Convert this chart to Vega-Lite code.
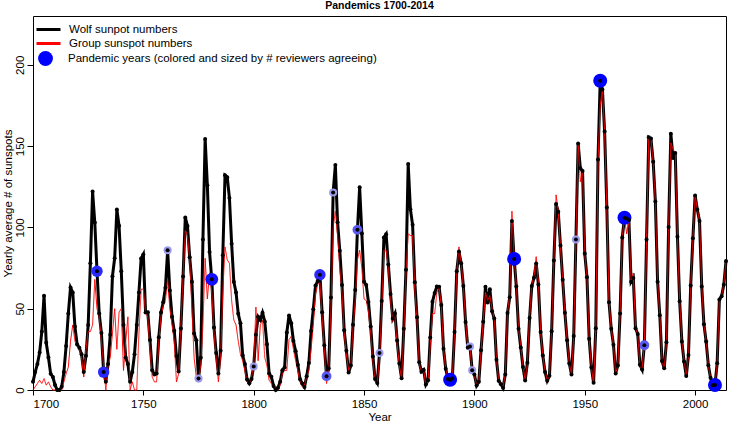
{
  "$schema": "https://vega.github.io/schema/vega-lite/v6.json",
  "width": 693,
  "height": 374,
  "autosize": {"type": "none"},
  "padding": {"left": 33, "top": 16, "right": 5, "bottom": 34},
  "background": "white",
  "title": {"text": "Pandemics 1700-2014", "fontSize": 10.5, "font": "Liberation Sans", "fontWeight": "bold", "color": "black", "anchor": "middle", "offset": 5},
  "config": {
    "view": {"stroke": "black", "strokeWidth": 1},
    "axis": {"domain": false, "grid": false, "tickColor": "black", "tickWidth": 1, "labelColor": "black", "labelFont": "Liberation Sans", "labelFontSize": 11.5, "titleFont": "Liberation Sans", "titleFontSize": 11.5, "titleFontWeight": "normal", "titleColor": "black"},
    "legend": {"padding": 0, "labelFont": "Liberation Sans", "labelFontSize": 11.5, "labelColor": "black", "labelLimit": 500}
  },
  "datasets": {
    "sun": [
      {"year":1700,"wolf":5.0,"group":0},{"year":1701,"wolf":11.0,"group":2},{"year":1702,"wolf":16.0,"group":4},{"year":1703,"wolf":23.0,"group":6},{"year":1704,"wolf":36.0,"group":4},{"year":1705,"wolf":58.0,"group":7},{"year":1706,"wolf":29.0,"group":3},{"year":1707,"wolf":20.0,"group":5},{"year":1708,"wolf":10.0,"group":2},{"year":1709,"wolf":8.0,"group":0},
      {"year":1710,"wolf":3.0,"group":0},{"year":1711,"wolf":0.0,"group":0},{"year":1712,"wolf":0.0,"group":0},{"year":1713,"wolf":2.0,"group":0},{"year":1714,"wolf":11.0,"group":5},{"year":1715,"wolf":27.0,"group":10},{"year":1716,"wolf":47.0,"group":14},{"year":1717,"wolf":63.0,"group":30},{"year":1718,"wolf":60.0,"group":40},{"year":1719,"wolf":39.0,"group":30},
      {"year":1720,"wolf":28.0,"group":27},{"year":1721,"wolf":26.0,"group":25},{"year":1722,"wolf":22.0,"group":20},{"year":1723,"wolf":11.0,"group":8},{"year":1724,"wolf":21.0,"group":25},{"year":1725,"wolf":40.0,"group":36},{"year":1726,"wolf":78.0,"group":36},{"year":1727,"wolf":122.0,"group":40},{"year":1728,"wolf":103.0,"group":68},{"year":1729,"wolf":73.0,"group":50},
      {"year":1730,"wolf":47.0,"group":45},{"year":1731,"wolf":35.0,"group":30},{"year":1732,"wolf":11.0,"group":15},{"year":1733,"wolf":5.0,"group":0},{"year":1734,"wolf":16.0,"group":15},{"year":1735,"wolf":34.0,"group":20},{"year":1736,"wolf":70.0,"group":35},{"year":1737,"wolf":81.0,"group":50},{"year":1738,"wolf":111.0,"group":25},{"year":1739,"wolf":101.0,"group":48},
      {"year":1740,"wolf":73.0,"group":50},{"year":1741,"wolf":40.0,"group":12},{"year":1742,"wolf":20.0,"group":30},{"year":1743,"wolf":16.0,"group":45},{"year":1744,"wolf":5.0,"group":0},{"year":1745,"wolf":11.0,"group":5},{"year":1746,"wolf":22.0,"group":0},{"year":1747,"wolf":40.0,"group":0},{"year":1748,"wolf":60.0,"group":35},{"year":1749,"wolf":80.9,"group":62},
      {"year":1750,"wolf":83.4,"group":62},{"year":1751,"wolf":47.7,"group":48},{"year":1752,"wolf":47.8,"group":45},{"year":1753,"wolf":30.7,"group":25},{"year":1754,"wolf":12.2,"group":8},{"year":1755,"wolf":9.6,"group":5},{"year":1756,"wolf":10.2,"group":5},{"year":1757,"wolf":32.4,"group":30},{"year":1758,"wolf":47.6,"group":45},{"year":1759,"wolf":54.0,"group":52},
      {"year":1760,"wolf":62.9,"group":55},{"year":1761,"wolf":85.9,"group":68},{"year":1762,"wolf":61.2,"group":50},{"year":1763,"wolf":45.1,"group":40},{"year":1764,"wolf":36.4,"group":30},{"year":1765,"wolf":20.9,"group":5},{"year":1766,"wolf":11.4,"group":10},{"year":1767,"wolf":37.8,"group":40},{"year":1768,"wolf":69.8,"group":70},{"year":1769,"wolf":106.1,"group":98},
      {"year":1770,"wolf":100.8,"group":95},{"year":1771,"wolf":81.6,"group":80},{"year":1772,"wolf":66.5,"group":50},{"year":1773,"wolf":34.8,"group":20},{"year":1774,"wolf":30.6,"group":8},{"year":1775,"wolf":7.0,"group":5},{"year":1776,"wolf":19.8,"group":15},{"year":1777,"wolf":92.5,"group":40},{"year":1778,"wolf":154.4,"group":81},{"year":1779,"wolf":125.9,"group":56},
      {"year":1780,"wolf":84.8,"group":72},{"year":1781,"wolf":68.1,"group":60},{"year":1782,"wolf":38.5,"group":35},{"year":1783,"wolf":22.8,"group":20},{"year":1784,"wolf":10.2,"group":5},{"year":1785,"wolf":24.1,"group":20},{"year":1786,"wolf":82.9,"group":60},{"year":1787,"wolf":132.0,"group":88},{"year":1788,"wolf":130.9,"group":80},{"year":1789,"wolf":118.1,"group":78},
      {"year":1790,"wolf":89.9,"group":55},{"year":1791,"wolf":66.6,"group":43},{"year":1792,"wolf":60.0,"group":40},{"year":1793,"wolf":46.9,"group":30},{"year":1794,"wolf":41.0,"group":22},{"year":1795,"wolf":21.3,"group":18},{"year":1796,"wolf":16.0,"group":12},{"year":1797,"wolf":6.4,"group":5},{"year":1798,"wolf":4.1,"group":3},{"year":1799,"wolf":6.8,"group":8},
      {"year":1800,"wolf":14.5,"group":15},{"year":1801,"wolf":34.0,"group":51},{"year":1802,"wolf":45.0,"group":18},{"year":1803,"wolf":43.1,"group":40},{"year":1804,"wolf":47.5,"group":43},{"year":1805,"wolf":42.2,"group":20},{"year":1806,"wolf":28.1,"group":15},{"year":1807,"wolf":10.1,"group":6},{"year":1808,"wolf":8.1,"group":4},{"year":1809,"wolf":2.5,"group":2},
      {"year":1810,"wolf":0.0,"group":1},{"year":1811,"wolf":1.4,"group":0},{"year":1812,"wolf":5.0,"group":3},{"year":1813,"wolf":12.2,"group":10},{"year":1814,"wolf":13.9,"group":12},{"year":1815,"wolf":35.4,"group":12},{"year":1816,"wolf":45.8,"group":31},{"year":1817,"wolf":41.1,"group":33},{"year":1818,"wolf":30.1,"group":25},{"year":1819,"wolf":23.9,"group":18},
      {"year":1820,"wolf":15.6,"group":12},{"year":1821,"wolf":6.6,"group":5},{"year":1822,"wolf":4.0,"group":2},{"year":1823,"wolf":1.8,"group":3},{"year":1824,"wolf":8.5,"group":8},{"year":1825,"wolf":16.6,"group":12},{"year":1826,"wolf":36.3,"group":25},{"year":1827,"wolf":49.6,"group":40},{"year":1828,"wolf":64.2,"group":59},{"year":1829,"wolf":67.0,"group":65},
      {"year":1830,"wolf":70.9,"group":66},{"year":1831,"wolf":47.8,"group":45},{"year":1832,"wolf":27.5,"group":25},{"year":1833,"wolf":8.5,"group":4},{"year":1834,"wolf":13.2,"group":12},{"year":1835,"wolf":56.9,"group":50},{"year":1836,"wolf":121.5,"group":100},{"year":1837,"wolf":138.3,"group":110},{"year":1838,"wolf":103.2,"group":95},{"year":1839,"wolf":85.7,"group":75},
      {"year":1840,"wolf":64.6,"group":60},{"year":1841,"wolf":36.7,"group":35},{"year":1842,"wolf":24.2,"group":22},{"year":1843,"wolf":10.7,"group":12},{"year":1844,"wolf":15.0,"group":15},{"year":1845,"wolf":40.1,"group":38},{"year":1846,"wolf":61.5,"group":55},{"year":1847,"wolf":98.5,"group":80},{"year":1848,"wolf":124.7,"group":86},{"year":1849,"wolf":96.3,"group":75},
      {"year":1850,"wolf":66.6,"group":56},{"year":1851,"wolf":64.5,"group":55},{"year":1852,"wolf":54.1,"group":48},{"year":1853,"wolf":39.0,"group":35},{"year":1854,"wolf":20.6,"group":18},{"year":1855,"wolf":6.7,"group":6},{"year":1856,"wolf":4.3,"group":4},{"year":1857,"wolf":22.7,"group":20},{"year":1858,"wolf":54.8,"group":50},{"year":1859,"wolf":93.8,"group":86},
      {"year":1860,"wolf":95.8,"group":86},{"year":1861,"wolf":77.2,"group":75},{"year":1862,"wolf":59.1,"group":55},{"year":1863,"wolf":44.0,"group":42},{"year":1864,"wolf":47.0,"group":45},{"year":1865,"wolf":30.5,"group":28},{"year":1866,"wolf":16.3,"group":15},{"year":1867,"wolf":7.3,"group":7},{"year":1868,"wolf":37.6,"group":35},{"year":1869,"wolf":74.0,"group":72},
      {"year":1870,"wolf":139.0,"group":96},{"year":1871,"wolf":111.2,"group":95},{"year":1872,"wolf":101.6,"group":95},{"year":1873,"wolf":66.2,"group":62},{"year":1874,"wolf":44.7,"group":42},{"year":1875,"wolf":17.0,"group":16},{"year":1876,"wolf":11.3,"group":11},{"year":1877,"wolf":12.4,"group":12},{"year":1878,"wolf":3.4,"group":3},{"year":1879,"wolf":6.0,"group":5},
      {"year":1880,"wolf":32.3,"group":28},{"year":1881,"wolf":54.3,"group":47},{"year":1882,"wolf":59.7,"group":47},{"year":1883,"wolf":63.7,"group":60},{"year":1884,"wolf":63.5,"group":63},{"year":1885,"wolf":52.2,"group":52},{"year":1886,"wolf":25.4,"group":25},{"year":1887,"wolf":13.1,"group":13},{"year":1888,"wolf":6.8,"group":7},{"year":1889,"wolf":6.3,"group":6},
      {"year":1890,"wolf":7.1,"group":7},{"year":1891,"wolf":35.6,"group":34},{"year":1892,"wolf":73.0,"group":72},{"year":1893,"wolf":85.1,"group":88},{"year":1894,"wolf":78.0,"group":78},{"year":1895,"wolf":64.0,"group":64},{"year":1896,"wolf":41.8,"group":42},{"year":1897,"wolf":26.2,"group":26},{"year":1898,"wolf":26.7,"group":25},{"year":1899,"wolf":12.1,"group":12},
      {"year":1900,"wolf":9.5,"group":9},{"year":1901,"wolf":2.7,"group":3},{"year":1902,"wolf":5.0,"group":5},{"year":1903,"wolf":24.4,"group":24},{"year":1904,"wolf":42.0,"group":42},{"year":1905,"wolf":63.5,"group":60},{"year":1906,"wolf":53.8,"group":55},{"year":1907,"wolf":62.0,"group":58},{"year":1908,"wolf":48.5,"group":50},{"year":1909,"wolf":43.9,"group":44},
      {"year":1910,"wolf":18.6,"group":19},{"year":1911,"wolf":5.7,"group":6},{"year":1912,"wolf":3.6,"group":4},{"year":1913,"wolf":1.4,"group":2},{"year":1914,"wolf":9.6,"group":10},{"year":1915,"wolf":47.4,"group":48},{"year":1916,"wolf":57.1,"group":58},{"year":1917,"wolf":103.9,"group":110},{"year":1918,"wolf":80.6,"group":82},{"year":1919,"wolf":63.6,"group":64},
      {"year":1920,"wolf":37.6,"group":38},{"year":1921,"wolf":26.1,"group":27},{"year":1922,"wolf":14.2,"group":15},{"year":1923,"wolf":5.8,"group":6},{"year":1924,"wolf":16.7,"group":16},{"year":1925,"wolf":44.3,"group":45},{"year":1926,"wolf":63.9,"group":65},{"year":1927,"wolf":69.0,"group":70},{"year":1928,"wolf":77.8,"group":82},{"year":1929,"wolf":64.9,"group":66},
      {"year":1930,"wolf":35.7,"group":36},{"year":1931,"wolf":21.2,"group":21},{"year":1932,"wolf":11.1,"group":12},{"year":1933,"wolf":5.7,"group":6},{"year":1934,"wolf":8.7,"group":9},{"year":1935,"wolf":36.1,"group":37},{"year":1936,"wolf":79.7,"group":80},{"year":1937,"wolf":114.4,"group":120},{"year":1938,"wolf":109.6,"group":110},{"year":1939,"wolf":88.8,"group":88},
      {"year":1940,"wolf":67.8,"group":68},{"year":1941,"wolf":47.5,"group":47},{"year":1942,"wolf":30.6,"group":31},{"year":1943,"wolf":16.3,"group":16},{"year":1944,"wolf":9.6,"group":10},{"year":1945,"wolf":33.2,"group":33},{"year":1946,"wolf":92.6,"group":92},{"year":1947,"wolf":151.6,"group":152},{"year":1948,"wolf":136.3,"group":128},{"year":1949,"wolf":134.7,"group":135},
      {"year":1950,"wolf":83.9,"group":84},{"year":1951,"wolf":69.4,"group":69},{"year":1952,"wolf":31.5,"group":31},{"year":1953,"wolf":13.9,"group":14},{"year":1954,"wolf":4.4,"group":4},{"year":1955,"wolf":38.0,"group":38},{"year":1956,"wolf":141.7,"group":140},{"year":1957,"wolf":190.2,"group":175},{"year":1958,"wolf":184.8,"group":185},{"year":1959,"wolf":159.0,"group":159},
      {"year":1960,"wolf":112.3,"group":112},{"year":1961,"wolf":53.9,"group":54},{"year":1962,"wolf":37.6,"group":38},{"year":1963,"wolf":27.9,"group":28},{"year":1964,"wolf":10.2,"group":10},{"year":1965,"wolf":15.1,"group":15},{"year":1966,"wolf":47.0,"group":47},{"year":1967,"wolf":93.8,"group":94},{"year":1968,"wolf":105.9,"group":106},{"year":1969,"wolf":105.5,"group":96},
      {"year":1970,"wolf":104.5,"group":104},{"year":1971,"wolf":66.6,"group":67},{"year":1972,"wolf":68.9,"group":72},{"year":1973,"wolf":38.0,"group":38},{"year":1974,"wolf":34.5,"group":34},{"year":1975,"wolf":15.5,"group":15},{"year":1976,"wolf":12.6,"group":13},{"year":1977,"wolf":27.5,"group":28},{"year":1978,"wolf":92.5,"group":92},{"year":1979,"wolf":155.4,"group":155},
      {"year":1980,"wolf":154.6,"group":155},{"year":1981,"wolf":140.4,"group":140},{"year":1982,"wolf":115.9,"group":116},{"year":1983,"wolf":66.6,"group":67},{"year":1984,"wolf":45.9,"group":46},{"year":1985,"wolf":17.9,"group":18},{"year":1986,"wolf":13.4,"group":13},{"year":1987,"wolf":29.4,"group":29},{"year":1988,"wolf":100.2,"group":100},{"year":1989,"wolf":157.6,"group":152},
      {"year":1990,"wolf":142.6,"group":148},{"year":1991,"wolf":145.7,"group":146},{"year":1992,"wolf":94.3,"group":94},{"year":1993,"wolf":54.6,"group":55},{"year":1994,"wolf":29.9,"group":30},{"year":1995,"wolf":17.5,"group":18},{"year":1996,"wolf":8.6,"group":9},{"year":1997,"wolf":21.5,"group":21},{"year":1998,"wolf":64.3,"group":64},{"year":1999,"wolf":93.3,"group":93},
      {"year":2000,"wolf":119.6,"group":120},{"year":2001,"wolf":111.0,"group":111},{"year":2002,"wolf":104.0,"group":104},{"year":2003,"wolf":63.7,"group":64},{"year":2004,"wolf":40.4,"group":40},{"year":2005,"wolf":29.8,"group":30},{"year":2006,"wolf":15.2,"group":15},{"year":2007,"wolf":7.5,"group":7.5},{"year":2008,"wolf":2.9,"group":3},{"year":2009,"wolf":3.1,"group":3},
      {"year":2010,"wolf":16.5,"group":16},{"year":2011,"wolf":55.7,"group":56},{"year":2012,"wolf":57.6,"group":58},{"year":2013,"wolf":64.7,"group":65},{"year":2014,"wolf":79.3,"group":79}
    ],
    "pandemics": [
      {"year":1729,"value":73.0,"reviewers":3},{"year":1732,"value":11.0,"reviewers":3},{"year":1761,"value":85.9,"reviewers":1},{"year":1775,"value":7.0,"reviewers":1},{"year":1781,"value":68.1,"reviewers":4},
      {"year":1800,"value":14.5,"reviewers":1},{"year":1830,"value":70.9,"reviewers":3},{"year":1833,"value":8.5,"reviewers":2},{"year":1836,"value":121.5,"reviewers":1},{"year":1847,"value":98.5,"reviewers":2},
      {"year":1857,"value":22.7,"reviewers":1},{"year":1889,"value":6.3,"reviewers":5},{"year":1898,"value":26.7,"reviewers":1},{"year":1899,"value":12.1,"reviewers":1},{"year":1918,"value":80.6,"reviewers":5},
      {"year":1946,"value":92.6,"reviewers":1},{"year":1957,"value":190.2,"reviewers":5},{"year":1968,"value":105.9,"reviewers":5},{"year":1977,"value":27.5,"reviewers":2},{"year":2009,"value":3.1,"reviewers":5}
    ]
  },
  "layer": [
    {
      "data": {"name": "sun"},
      "mark": {"type": "line", "strokeWidth": 3},
      "encoding": {
        "x": {"field": "year", "type": "quantitative", "scale": {"domain": [1700, 2014], "nice": false, "zero": false},
              "axis": {"values": [1700, 1750, 1800, 1850, 1900, 1950, 2000], "format": "d", "tickSize": 5, "labelPadding": 3, "title": "Year", "titleY": 27, "titleBaseline": "middle"}},
        "y": {"field": "wolf", "type": "quantitative", "scale": {"domain": [0, 230], "nice": false},
              "axis": {"values": [0, 50, 100, 150, 200], "tickSize": 6, "labelAngle": -90, "labelAlign": "center", "labelBaseline": "alphabetic", "labelPadding": 4,
                       "title": "Yearly average # of sunspots", "titleAngle": -90, "titleX": -25, "titleY": 187, "titleAlign": "center", "titleBaseline": "middle"}},
        "stroke": {"datum": "Wolf sunpot numbers", "type": "nominal",
                   "scale": {"domain": ["Wolf sunpot numbers"], "range": ["black"]},
                   "legend": {"title": null, "orient": "none", "legendX": 2, "legendY": 0, "symbolType": "stroke", "symbolStrokeWidth": 3, "symbolSize": 576, "labelOffset": 7}}
      }
    },
    {
      "data": {"name": "sun"},
      "mark": {"type": "line", "strokeWidth": 1, "color": "red"},
      "encoding": {
        "x": {"field": "year", "type": "quantitative"},
        "y": {"field": "group", "type": "quantitative"},
        "strokeDash": {"datum": "Group sunspot numbers", "type": "nominal", "scale": {"range": [[1, 0]]},
                       "legend": {"title": null, "orient": "none", "legendX": 2, "legendY": 14, "symbolType": "stroke", "symbolStrokeColor": "red", "symbolStrokeWidth": 3, "symbolSize": 576, "labelOffset": 7}}
      }
    },
    {
      "data": {"name": "pandemics"},
      "mark": {"type": "point", "filled": true, "opacity": 1, "strokeWidth": 0},
      "encoding": {
        "x": {"field": "year", "type": "quantitative"},
        "y": {"field": "value", "type": "quantitative"},
        "color": {"field": "reviewers", "type": "ordinal", "scale": {"type": "ordinal", "domain": [1, 2, 3, 4, 5], "range": ["#9c9cee", "#5a5af2", "#2828ff", "#1010ff", "#0000ff"]}, "legend": null},
        "size": {"field": "reviewers", "type": "quantitative", "scale": {"type": "linear", "domain": [1, 5], "range": [65, 195], "zero": false}, "legend": null},
        "shape": {"datum": "Pandemic years (colored and sized by # reviewers agreeing)", "type": "nominal", "scale": {"range": ["circle"]},
                  "legend": {"title": null, "orient": "none", "legendX": 5, "legendY": 35, "symbolFillColor": "#0000ff", "symbolStrokeColor": "#0000ff", "symbolStrokeWidth": 0, "symbolSize": 220, "labelOffset": 15}}
      }
    },
    {
      "data": {"name": "sun"},
      "mark": {"type": "circle", "color": "black", "size": 16, "opacity": 1},
      "encoding": {
        "x": {"field": "year", "type": "quantitative"},
        "y": {"field": "wolf", "type": "quantitative"}
      }
    }
  ]
}
